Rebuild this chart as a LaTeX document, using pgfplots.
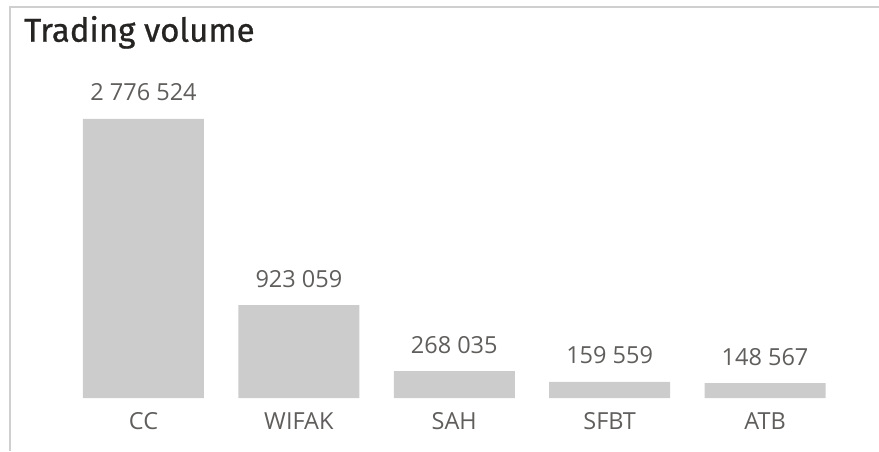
\documentclass[border=0pt]{standalone}
\usepackage{fontspec}
\setmainfont{Open Sans}
\newfontfamily\titlefont{Fira Sans}[FakeBold=0.8]
\usepackage{pgfplots}
\pgfplotsset{compat=1.18}
\definecolor{barc}{HTML}{CCCCCC}
\definecolor{labc}{HTML}{605E5C}
\definecolor{titc}{HTML}{252423}
\definecolor{framec}{HTML}{CFCFCF}
\begin{document}
\begin{tikzpicture}
\path[use as bounding box] (0,0) rectangle (879pt,451pt);
\draw[framec, line width=1.6pt] (10pt,0pt) -- (10pt,444pt) -- (879pt,444pt);
\node[anchor=base west, inner sep=0pt, text=titc] at (24pt,409.3pt) {\titlefont\fontsize{33}{38}\selectfont Trading volume};
\begin{axis}[
  at={(65.8pt,53pt)}, anchor=south west,
  scale only axis, width=776.9pt, height=321.6pt,
  ybar, bar width=121pt,
  xmin=-0.5, xmax=4.5, ymin=0, ymax=3200000,
  axis line style={draw=none},
  major tick length=0pt,
  ytick=\empty,
  xtick={0,1,2,3,4},
  xticklabels={CC,WIFAK,SAH,SFBT,ATB},
  xticklabel style={anchor=base, yshift=-31.3pt, inner sep=0pt, text=labc, font=\fontsize{23.5}{27}\selectfont},
  clip=false,
  nodes near coords,
  every node near coord/.append style={anchor=base, yshift=18pt, inner sep=0pt, text=labc, font=\fontsize{23.5}{28}\selectfont},
  /pgf/number format/.cd, fixed, precision=0, 1000 sep={\ }, assume math mode=true,
]
\addplot[fill=barc, draw=none] coordinates {(0,2776524) (1,923059) (2,268035) (3,159559) (4,148567)};
\end{axis}
\end{tikzpicture}
\end{document}
